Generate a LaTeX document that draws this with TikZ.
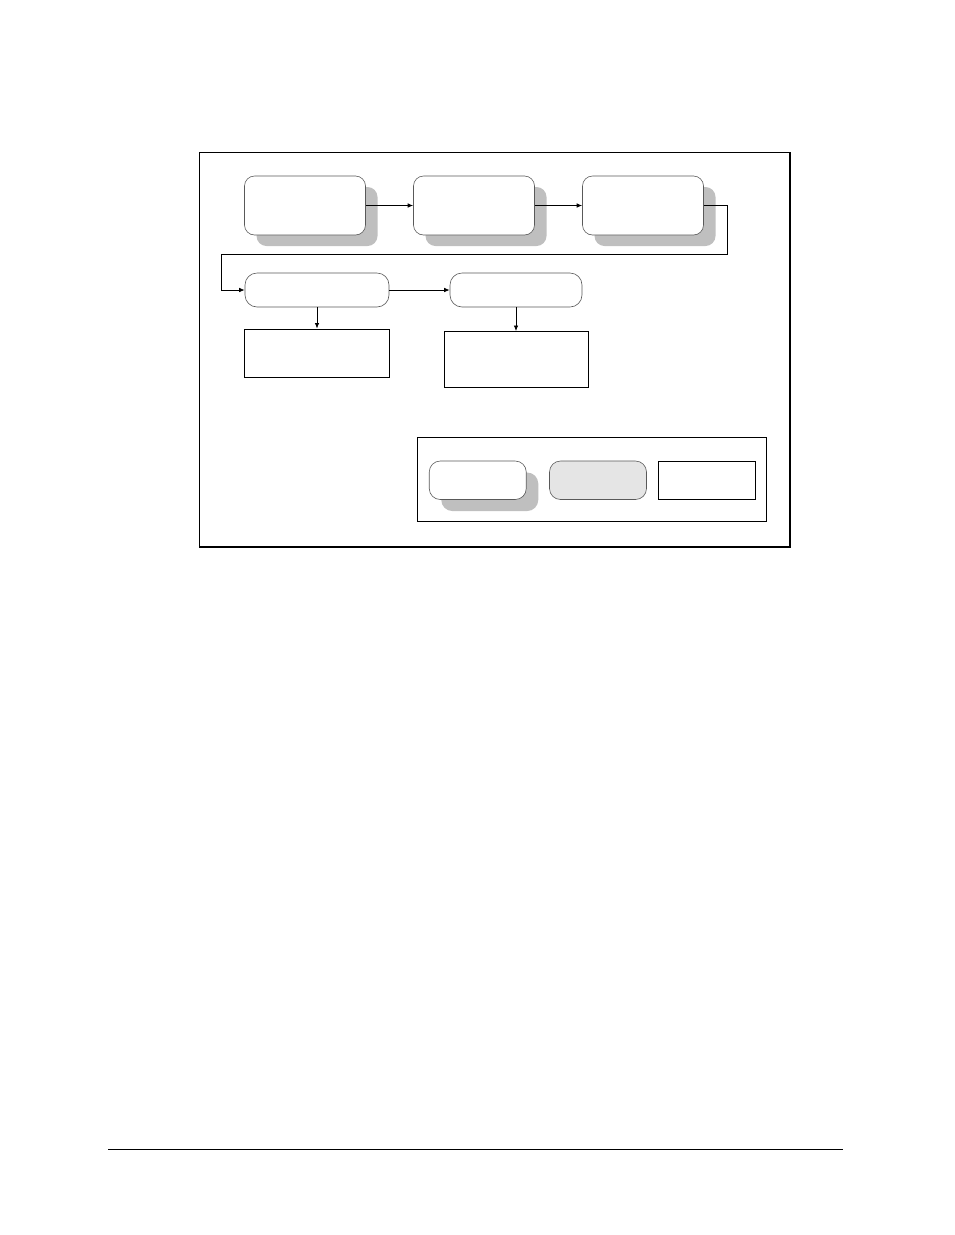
\documentclass[tikz,border=0pt]{standalone}
\usepackage{xcolor}
\usepackage{tikz}
\usetikzlibrary{calc, positioning, arrows.meta, shadows}

\begin{document}
\begin{tikzpicture}
                      [x=1pt, y=-1pt, >={Latex[length=5.5pt,width=4.5pt]},
                       stage/.style={draw=black!65, fill=white, rounded corners=10pt, inner sep=0pt,
                                     minimum width=121pt, minimum height=59pt, line width=.6pt,
                                     drop shadow={shadow xshift=12pt, shadow yshift=-11pt, fill=black!25, opacity=1}},
                       stepbox/.style={draw=black!65, fill=white, rounded corners=12pt, inner sep=0pt,
                                    minimum height=34pt, line width=.6pt},
                       result/.style={draw, rectangle, inner sep=0pt, line width=.9pt},
                       key/.style={minimum width=97pt, minimum height=38.5pt, inner sep=0pt}]
                      \useasboundingbox (0,0) rectangle (954,1235);

                      % frame %
                      \node[draw, line width=1.6pt, minimum width=590.5pt, minimum height=394.5pt, inner sep=0pt] (frame) at (494.75,349.75) {};

                      % nodes %
                      \node[stage] (s1) at (305,205.5) {};
                      \node[stage] (s2) at (474,205.5) {};
                      \node[stage] (s3) at (643,205.5) {};
                      \node[stepbox, minimum width=144pt] (t1) at (317,290) {};
                      \node[stepbox, minimum width=132pt] (t2) at (516,290) {};
                      \node[result, minimum width=145pt, minimum height=48pt] (r1) at (316.5,353) {};
                      \node[result, minimum width=144pt, minimum height=56pt] (r2) at (516,359.5) {};
                      \coordinate (turnr) at (727,254);
                      \coordinate (turnl) at (221,254);

                      % legend %
                      \node[draw, line width=.9pt, minimum width=349.5pt, minimum height=84pt, inner sep=0pt] (legend) at (591.75,479) {};
                      \node[key, draw=black!65, fill=white, rounded corners=11pt, line width=.6pt,
                            drop shadow={shadow xshift=12pt, shadow yshift=-11.5pt, fill=black!25, opacity=1}] (k1) at (477.75,480.25) {};
                      \node[key, draw=black!65, fill=black!10, rounded corners=11pt, line width=.6pt] (k2) at (598,480.25) {};
                      \node[key, result] (k3) at (707,480.25) {};

                      % edges %
                      \draw[->, line width= .8] (s1) -- (s2);
                      \draw[->, line width= .8] (s2) -- (s3);
                      \draw[->, line width= .8] (s3.east) -| (turnr) -- (turnl) |- (t1.west);
                      \draw[->, line width= .8] (t1) -- (t2);
                      \draw[->, line width= .8] (t1.south) -- (t1.south |- r1.north);
                      \draw[->, line width= .8] (t2.south) -- (r2.north);

                      % footer rule %
                      \coordinate (rulel) at (108,1149);
                      \coordinate (ruler) at (843,1149);
                      \draw[line width=1pt] (rulel) -- (ruler);
                    \end{tikzpicture}
\end{document}
